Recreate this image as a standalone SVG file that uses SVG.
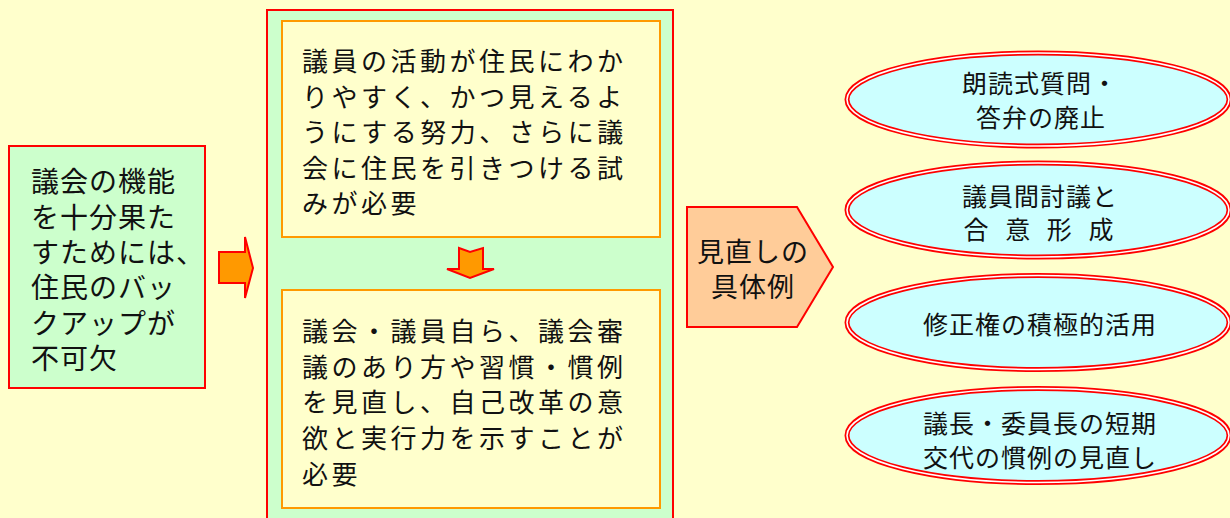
<svg xmlns="http://www.w3.org/2000/svg" width="1230" height="518" viewBox="0 0 1230 518">
<style>
.t{font-family:"Noto Sans CJK JP","Noto Sans CJK SC",sans-serif;fill:#111;}
.lt{font-size:28px;letter-spacing:1px;}
.mt{font-size:26px;letter-spacing:3.5px;}
.pt{font-size:27px;letter-spacing:1px;text-anchor:middle;}
.et{font-size:25px;letter-spacing:1px;text-anchor:middle;}
.ell{fill:#ccffff;stroke:#ff0000;stroke-width:5;}
.ellg{fill:none;stroke:#ffffff;stroke-width:1.6;}
.arr{fill:#ff9900;stroke:#ff0000;stroke-width:2;stroke-linejoin:miter;}
.inner{fill:#ffffcc;stroke:#ff9900;stroke-width:2;}
</style>
<rect x="0" y="0" width="1230" height="518" fill="#ffffcc"/>

<g id="left-box">
<rect x="9" y="146" width="196" height="242" fill="#ccffcc" stroke="#ff0000" stroke-width="2"/>
<text class="t lt" x="31"><tspan x="31" y="192">議会の機能</tspan><tspan x="31" y="227.5">を十分果た</tspan><tspan x="31" y="263">すためには、</tspan><tspan x="31" y="298">住民のバッ</tspan><tspan x="31" y="333.5">クアップが</tspan><tspan x="31" y="369">不可欠</tspan></text>
</g>

<g id="middle-panel">
<rect x="267" y="10" width="406" height="530" fill="#ccffcc" stroke="#ff0000" stroke-width="2"/>
</g>

<g id="box-upper">
<rect class="inner" x="282" y="21" width="378" height="216"/>
<text class="t mt"><tspan x="302" y="71">議員の活動が住民にわか</tspan><tspan x="302" y="106.7">りやすく、かつ見えるよ</tspan><tspan x="302" y="142.3">うにする努力、さらに議</tspan><tspan x="302" y="178">会に住民を引きつける試</tspan><tspan x="302" y="213.4">みが必要</tspan></text>
</g>

<g id="box-lower">
<rect class="inner" x="282" y="290" width="378" height="218"/>
<text class="t mt"><tspan x="302" y="341">議会・議員自ら、議会審</tspan><tspan x="302" y="376.7">議のあり方や習慣・慣例</tspan><tspan x="302" y="412.3">を見直し、自己改革の意</tspan><tspan x="302" y="448">欲と実行力を示すことが</tspan><tspan x="302" y="483.5">必要</tspan></text>
</g>

<g id="examples-label">
<polygon points="687,207 797,207 833,267 797,327 687,327" fill="#ffcc99" stroke="#ff0000" stroke-width="2"/>
<text class="t pt"><tspan x="753" y="262">見直しの</tspan><tspan x="753" y="296.5">具体例</tspan></text>
</g>

<g id="example-1">
<ellipse class="ell" cx="1038" cy="99.5" rx="191" ry="46.5"/>
<ellipse class="ellg" cx="1038" cy="99.5" rx="191" ry="46.5"/>
<text class="t et"><tspan x="1040" y="93">朗読式質問・</tspan><tspan x="1041" y="126.5">答弁の廃止</tspan></text>
</g>

<g id="example-2">
<ellipse class="ell" cx="1038" cy="210" rx="191" ry="47"/>
<ellipse class="ellg" cx="1038" cy="210" rx="191" ry="47"/>
<text class="t et"><tspan x="1040" y="205.5">議員間討議と</tspan><tspan x="1039" y="239" word-spacing="9px">合 意 形 成</tspan></text>
</g>

<g id="example-3">
<ellipse class="ell" cx="1038" cy="322.5" rx="191" ry="47"/>
<ellipse class="ellg" cx="1038" cy="322.5" rx="191" ry="47"/>
<text class="t et"><tspan x="1040" y="334">修正権の積極的活用</tspan></text>
</g>

<g id="example-4">
<ellipse class="ell" cx="1038" cy="435.5" rx="191" ry="47"/>
<ellipse class="ellg" cx="1038" cy="435.5" rx="191" ry="47"/>
<text class="t et"><tspan x="1040" y="433">議長・委員長の短期</tspan><tspan x="1040" y="466.5">交代の慣例の見直し</tspan></text>
</g>

<g id="connectors">
<polygon class="arr" points="219,252 245,252 245,237 253,268 245,298 245,283 219,283"/>
<polygon class="arr" points="459,248 470,252 483,248 483,269 494,269 470,278 447,269 459,269"/>
</g>
</svg>
